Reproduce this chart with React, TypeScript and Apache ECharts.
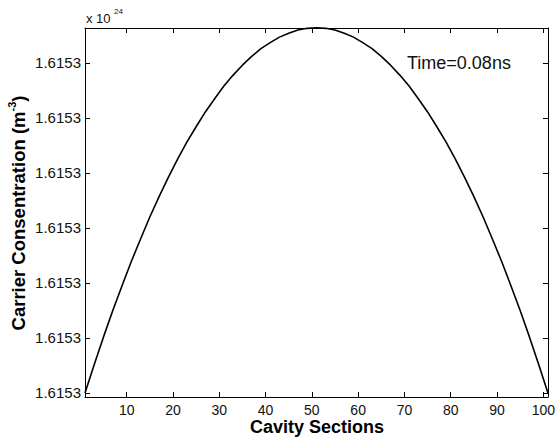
import React, { useEffect, useRef } from "react";
import * as echarts from "echarts";

// Cavity section index (x) and carrier concentration offset above the lowest tick (in tick units)
const sections = [1, 3, 5, 7, 9, 11, 13, 15, 17, 19, 21, 23, 25, 27, 29, 31, 33, 35, 37, 39, 41, 43, 45, 47, 49, 51, 53, 55, 57, 59, 61, 63, 65, 67, 69, 71, 73, 75, 77, 79, 81, 83, 85, 87, 89, 91, 93, 95, 97, 99, 101];
const concentration = [0, 0.52, 1.02, 1.5, 1.95, 2.39, 2.8, 3.2, 3.57, 3.92, 4.25, 4.56, 4.84, 5.11, 5.35, 5.58, 5.78, 5.96, 6.12, 6.26, 6.37, 6.47, 6.54, 6.6, 6.63, 6.64, 6.63, 6.6, 6.54, 6.47, 6.37, 6.26, 6.12, 5.96, 5.78, 5.58, 5.35, 5.11, 4.84, 4.56, 4.25, 3.92, 3.57, 3.2, 2.8, 2.39, 1.95, 1.5, 1.02, 0.52, 0];
const xTicks = [10, 20, 30, 40, 50, 60, 70, 80, 90, 100];
const yTicks = [0, 1, 2, 3, 4, 5, 6];
const yTickLabel = "1.6153";

const FONT = "'Liberation Sans', Arial, Helvetica, sans-serif";

export default function App() {
  const ref = useRef<HTMLDivElement>(null);
  useEffect(() => {
    if (!ref.current) return;
    const chart = echarts.init(ref.current, null, { renderer: "svg" });
    const tickStyle = { show: true, inside: true, length: 5, lineStyle: { color: "#000", width: 1 } };
    const lineStyle = { show: true, onZero: false, lineStyle: { color: "#000", width: 1 } };
    chart.setOption({
      animation: false,
      backgroundColor: "#fff",
      grid: { left: 85, right: 8, top: 28, bottom: 44, containLabel: false },
      xAxis: [
        {
          type: "value", min: 1, max: 101, position: "bottom",
          axisLine: lineStyle,
          axisTick: { ...tickStyle, customValues: xTicks },
          axisLabel: { customValues: xTicks, fontSize: 14, color: "#111", fontFamily: FONT, margin: 6 },
          splitLine: { show: false },
        },
        {
          type: "value", min: 1, max: 101, position: "top",
          axisLine: lineStyle,
          axisTick: { ...tickStyle, customValues: xTicks },
          axisLabel: { show: false },
          splitLine: { show: false },
        },
      ],
      yAxis: [
        {
          type: "value", min: -0.073, max: 6.636, position: "left",
          axisLine: lineStyle,
          axisTick: { ...tickStyle, customValues: yTicks },
          axisLabel: { customValues: yTicks, formatter: () => yTickLabel, fontSize: 15, color: "#111", fontFamily: FONT, margin: 4 },
          splitLine: { show: false },
        },
        {
          type: "value", min: -0.073, max: 6.636, position: "right",
          axisLine: lineStyle,
          axisTick: { ...tickStyle, customValues: yTicks },
          axisLabel: { show: false },
          splitLine: { show: false },
        },
      ],
      series: [
        {
          type: "line",
          data: sections.map((s, i) => [s, concentration[i]]),
          showSymbol: false,
          lineStyle: { color: "#000", width: 1.6 },
          smooth: false,
          clip: false,
        },
      ],
      graphic: [
        {
          type: "text", x: 86, y: 18,
          style: { text: "x 10", fontSize: 13, fill: "#111", fontFamily: FONT, textAlign: "left", textVerticalAlign: "middle" },
        },
        {
          type: "text", x: 114, y: 11,
          style: { text: "24", fontSize: 8, fill: "#111", fontFamily: FONT, textAlign: "left", textVerticalAlign: "middle" },
        },
        {
          type: "text", x: 407, y: 63,
          style: { text: "Time=0.08ns", fontSize: 18, fill: "#111", fontFamily: FONT, textAlign: "left", textVerticalAlign: "middle" },
        },
        {
          type: "text", x: 317, y: 427,
          style: { text: "Cavity Sections", fontSize: 18, fontWeight: "bold", fill: "#000", fontFamily: FONT, textAlign: "center", textVerticalAlign: "middle" },
        },
        {
          type: "text", x: 17, y: 213, rotation: Math.PI / 2,
          style: {
            text: "{a|Carrier Consentration (m}{s|-3}{a|)}",
            fill: "#000",
            fontFamily: FONT,
            textAlign: "center",
            textVerticalAlign: "middle",
            rich: {
              a: { fontSize: 18.5, fontWeight: "bold", fontFamily: FONT, fill: "#000", lineHeight: 22, verticalAlign: "bottom" },
              s: { fontSize: 11, fontWeight: "bold", fontFamily: FONT, fill: "#000", lineHeight: 22, verticalAlign: "top" },
            },
          },
        },
      ],
    });
    return () => chart.dispose();
  }, []);
  return <div ref={ref} style={{ position: "fixed", left: 0, top: 0, width: 558, height: 441 }} />;
}
